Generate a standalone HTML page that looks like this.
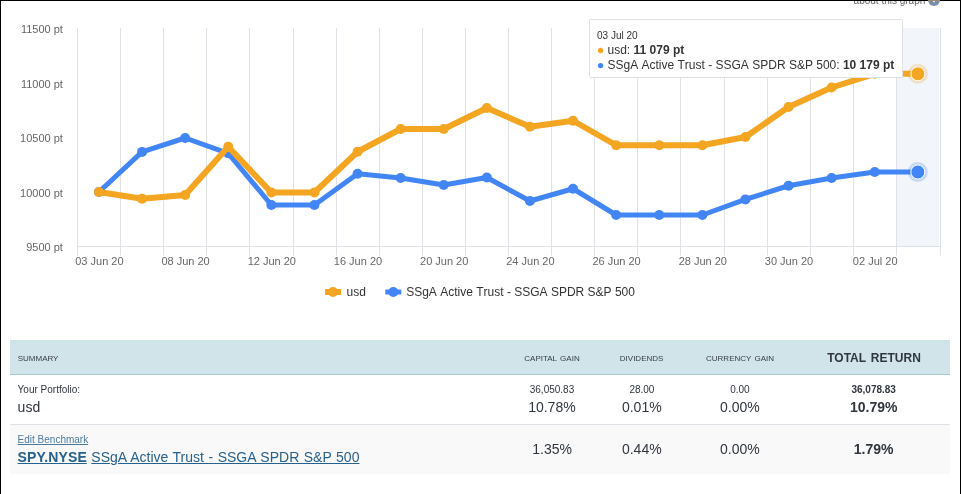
<!DOCTYPE html>
<html><head><meta charset="utf-8"><title>Performance</title>
<style>
html,body{margin:0;padding:0;background:#fff;}
body{width:961px;height:494px;position:relative;overflow:hidden;font-family:"Liberation Sans",sans-serif;color:#30363f;}
.abs{position:absolute;}
.t{position:absolute;white-space:nowrap;line-height:1;}
.c{transform:translateX(-50%);text-align:center;}
.hd{font-size:11px;color:#363d48;font-variant:small-caps;text-transform:lowercase;}
.s10{font-size:10px;}
.s14{font-size:14px;}
.b{font-weight:bold;}
a{text-decoration:underline;}
</style></head><body><div id="wrap" style="position:absolute;left:0;top:0;width:961px;height:494px;will-change:transform;">
<svg width="961" height="330" font-family="Liberation Sans, sans-serif" style="position:absolute;left:0;top:0;font-kerning:none"><rect x="896.5" y="28" width="42.5" height="218.3" fill="#f2f5fa"/><rect x="77" y="28" width="1" height="227.5" fill="#dee2e7"/><rect x="120" y="28" width="1" height="227.5" fill="#dee2e7"/><rect x="163" y="28" width="1" height="227.5" fill="#dee2e7"/><rect x="206" y="28" width="1" height="227.5" fill="#dee2e7"/><rect x="249" y="28" width="1" height="227.5" fill="#dee2e7"/><rect x="293" y="28" width="1" height="227.5" fill="#dee2e7"/><rect x="336" y="28" width="1" height="227.5" fill="#dee2e7"/><rect x="379" y="28" width="1" height="227.5" fill="#dee2e7"/><rect x="422" y="28" width="1" height="227.5" fill="#dee2e7"/><rect x="465" y="28" width="1" height="227.5" fill="#dee2e7"/><rect x="508" y="28" width="1" height="227.5" fill="#dee2e7"/><rect x="551" y="28" width="1" height="227.5" fill="#dee2e7"/><rect x="594" y="28" width="1" height="227.5" fill="#dee2e7"/><rect x="637" y="28" width="1" height="227.5" fill="#dee2e7"/><rect x="680" y="28" width="1" height="227.5" fill="#dee2e7"/><rect x="724" y="28" width="1" height="227.5" fill="#dee2e7"/><rect x="767" y="28" width="1" height="227.5" fill="#dee2e7"/><rect x="810" y="28" width="1" height="227.5" fill="#dee2e7"/><rect x="853" y="28" width="1" height="227.5" fill="#dee2e7"/><rect x="896" y="28" width="1" height="227.5" fill="#dee2e7"/><rect x="940" y="28" width="1" height="227.5" fill="#dee2e7"/><rect x="77" y="246" width="864" height="1" fill="#dee2e7"/><text x="62.9" y="33.0" text-anchor="end" font-size="11" fill="#666666" style="font-kerning:normal">11500 pt</text><text x="62.9" y="87.5" text-anchor="end" font-size="11" fill="#666666" style="font-kerning:normal">11000 pt</text><text x="62.9" y="142.0" text-anchor="end" font-size="11" fill="#666666" style="font-kerning:normal">10500 pt</text><text x="62.9" y="196.5" text-anchor="end" font-size="11" fill="#666666" style="font-kerning:normal">10000 pt</text><text x="62.9" y="251.0" text-anchor="end" font-size="11" fill="#666666" style="font-kerning:normal">9500 pt</text><text x="99.40" y="265" text-anchor="middle" font-size="11" fill="#666666">03 Jun 20</text><text x="185.60" y="265" text-anchor="middle" font-size="11" fill="#666666">08 Jun 20</text><text x="271.80" y="265" text-anchor="middle" font-size="11" fill="#666666">12 Jun 20</text><text x="358.00" y="265" text-anchor="middle" font-size="11" fill="#666666">16 Jun 20</text><text x="444.20" y="265" text-anchor="middle" font-size="11" fill="#666666">20 Jun 20</text><text x="530.40" y="265" text-anchor="middle" font-size="11" fill="#666666">24 Jun 20</text><text x="616.60" y="265" text-anchor="middle" font-size="11" fill="#666666">26 Jun 20</text><text x="702.80" y="265" text-anchor="middle" font-size="11" fill="#666666">28 Jun 20</text><text x="789.00" y="265" text-anchor="middle" font-size="11" fill="#666666">30 Jun 20</text><text x="875.20" y="265" text-anchor="middle" font-size="11" fill="#666666">02 Jul 20</text><path d="M 98.95 192.00 L 142.05 151.90 L 185.15 138.00 L 228.25 153.30 L 271.35 205.00 L 314.45 205.00 L 357.55 173.75 L 400.65 178.00 L 443.75 185.00 L 486.85 177.50 L 529.95 201.00 L 573.05 188.75 L 616.15 215.00 L 659.25 215.00 L 702.35 215.00 L 745.45 199.40 L 788.55 185.75 L 831.65 178.00 L 874.75 172.00 L 917.85 172.00" fill="none" stroke="#4285f4" stroke-width="5" stroke-linejoin="round" stroke-linecap="round"/><circle cx="98.95" cy="192.00" r="5" fill="#4285f4"/><circle cx="142.05" cy="151.90" r="5" fill="#4285f4"/><circle cx="185.15" cy="138.00" r="5" fill="#4285f4"/><circle cx="228.25" cy="153.30" r="5" fill="#4285f4"/><circle cx="271.35" cy="205.00" r="5" fill="#4285f4"/><circle cx="314.45" cy="205.00" r="5" fill="#4285f4"/><circle cx="357.55" cy="173.75" r="5" fill="#4285f4"/><circle cx="400.65" cy="178.00" r="5" fill="#4285f4"/><circle cx="443.75" cy="185.00" r="5" fill="#4285f4"/><circle cx="486.85" cy="177.50" r="5" fill="#4285f4"/><circle cx="529.95" cy="201.00" r="5" fill="#4285f4"/><circle cx="573.05" cy="188.75" r="5" fill="#4285f4"/><circle cx="616.15" cy="215.00" r="5" fill="#4285f4"/><circle cx="659.25" cy="215.00" r="5" fill="#4285f4"/><circle cx="702.35" cy="215.00" r="5" fill="#4285f4"/><circle cx="745.45" cy="199.40" r="5" fill="#4285f4"/><circle cx="788.55" cy="185.75" r="5" fill="#4285f4"/><circle cx="831.65" cy="178.00" r="5" fill="#4285f4"/><circle cx="874.75" cy="172.00" r="5" fill="#4285f4"/><path d="M 98.95 192.00 L 142.05 198.75 L 185.15 195.00 L 228.25 146.75 L 271.35 192.50 L 314.45 192.50 L 357.55 151.75 L 400.65 129.00 L 443.75 129.00 L 486.85 108.00 L 529.95 126.75 L 573.05 120.75 L 616.15 145.25 L 659.25 145.25 L 702.35 145.25 L 745.45 137.00 L 788.55 107.00 L 831.65 87.50 L 874.75 73.80 L 917.85 73.80" fill="none" stroke="#f4a522" stroke-width="6" stroke-linejoin="round" stroke-linecap="round"/><circle cx="98.95" cy="192.00" r="5" fill="#f4a522"/><circle cx="142.05" cy="198.75" r="5" fill="#f4a522"/><circle cx="185.15" cy="195.00" r="5" fill="#f4a522"/><circle cx="228.25" cy="146.75" r="5" fill="#f4a522"/><circle cx="271.35" cy="192.50" r="5" fill="#f4a522"/><circle cx="314.45" cy="192.50" r="5" fill="#f4a522"/><circle cx="357.55" cy="151.75" r="5" fill="#f4a522"/><circle cx="400.65" cy="129.00" r="5" fill="#f4a522"/><circle cx="443.75" cy="129.00" r="5" fill="#f4a522"/><circle cx="486.85" cy="108.00" r="5" fill="#f4a522"/><circle cx="529.95" cy="126.75" r="5" fill="#f4a522"/><circle cx="573.05" cy="120.75" r="5" fill="#f4a522"/><circle cx="616.15" cy="145.25" r="5" fill="#f4a522"/><circle cx="659.25" cy="145.25" r="5" fill="#f4a522"/><circle cx="702.35" cy="145.25" r="5" fill="#f4a522"/><circle cx="745.45" cy="137.00" r="5" fill="#f4a522"/><circle cx="788.55" cy="107.00" r="5" fill="#f4a522"/><circle cx="831.65" cy="87.50" r="5" fill="#f4a522"/><circle cx="874.75" cy="73.80" r="5" fill="#f4a522"/><circle cx="917.85" cy="172.00" r="10" fill="#4285f4" fill-opacity="0.25"/><circle cx="917.85" cy="172.00" r="7" fill="#4285f4" stroke="#ffffff" stroke-width="1"/><circle cx="917.85" cy="73.80" r="10" fill="#f4a522" fill-opacity="0.25"/><circle cx="917.85" cy="73.80" r="7" fill="#f4a522" stroke="#ffffff" stroke-width="1"/><path d="M 325 292 L 341 292" stroke="#f4a522" stroke-width="6"/><circle cx="333" cy="292" r="5" fill="#f4a522"/><text x="346.5" y="296" font-size="12" fill="#333333">usd</text><path d="M 385.3 292 L 401.3 292" stroke="#4285f4" stroke-width="5"/><circle cx="393.3" cy="292" r="5" fill="#4285f4"/><text x="406.2" y="296" font-size="12" fill="#333333">SSgA Active Trust - SSGA SPDR S&amp;P 500</text><rect x="589.5" y="19.5" width="313" height="58" rx="1" ry="1" fill="#ffffff" stroke="#dde1e6" stroke-width="1"/><text x="597" y="39" font-size="10" fill="#333333">03 Jul 20</text><circle cx="600.6" cy="50.5" r="2.65" fill="#f4a522"/><text x="607.5" y="54" font-size="12" fill="#333333">usd: <tspan font-weight="bold" style="font-kerning:normal">11 079 pt</tspan></text><circle cx="600.6" cy="65.6" r="2.65" fill="#4285f4"/><text x="607.5" y="68.7" font-size="12" fill="#333333">SSgA Active Trust - SSGA SPDR S&amp;P 500: <tspan font-weight="bold">10 179 pt</tspan></text><text x="925.3" y="3.5" text-anchor="end" font-size="10" fill="#666666" style="font-kerning:normal">about this graph</text><circle cx="934" cy="0" r="6" fill="#7a8dab"/><circle cx="934" cy="1.6" r="0.8" fill="#ffffff"/></svg>
<div class="abs" style="left:10px;top:340px;width:940px;height:33.5px;background:#d1e4ea;"></div>
<div class="abs" style="left:10px;top:373.5px;width:940px;height:1px;background:#a8cad3;"></div>
<div class="abs" style="left:10px;top:424px;width:940px;height:1px;background:#dde1e6;"></div>
<div class="abs" style="left:10px;top:425px;width:940px;height:48.5px;background:#f9f9f9;"></div>

<div class="t hd" style="left:17.7px;top:352px;">Summary</div>
<div class="t hd c" style="left:552px;top:352px;">Capital Gain</div>
<div class="t hd c" style="left:641.6px;top:352px;">Dividends</div>
<div class="t hd c" style="left:740px;top:352px;">Currency Gain</div>
<div class="t c b" style="left:874px;top:347.7px;font-size:17px;color:#30363f;font-variant:small-caps;text-transform:lowercase;">Total Return</div>

<div class="t s10" style="left:17.6px;top:385px;">Your Portfolio:</div>
<div class="t s14" style="left:17.6px;top:400px;">usd</div>
<div class="t s10 c" style="left:552px;top:385px;">36,050.83</div>
<div class="t s14 c" style="left:551.9px;top:400px;">10.78%</div>
<div class="t s10 c" style="left:641.9px;top:385px;">28.00</div>
<div class="t s14 c" style="left:641.8px;top:400px;">0.01%</div>
<div class="t s10 c" style="left:739.9px;top:385px;">0.00</div>
<div class="t s14 c" style="left:739.9px;top:400px;">0.00%</div>
<div class="t s10 c b" style="left:873.7px;top:385px;">36,078.83</div>
<div class="t s14 c b" style="left:873.7px;top:400px;">10.79%</div>

<div class="t s10" style="left:17.6px;top:435px;color:#4b7b9d;"><a>Edit Benchmark</a></div>
<div class="t s14" style="left:17.6px;top:450px;color:#27618d;"><a><b style="letter-spacing:0.1px">SPY.NYSE</b></a> <a style="word-spacing:0.65px;margin-left:0.6px">SSgA Active Trust - SSGA SPDR S&amp;P 500</a></div>
<div class="t s14 c" style="left:552.1px;top:442px;">1.35%</div>
<div class="t s14 c" style="left:641.8px;top:442px;">0.44%</div>
<div class="t s14 c" style="left:739.9px;top:442px;">0.00%</div>
<div class="t s14 c b" style="left:873.7px;top:442px;">1.79%</div>

<div class="abs" style="left:0;top:0;width:961px;height:1px;background:#000;"></div>
<div class="abs" style="left:928px;top:0;width:12px;height:1px;background:#9c8b6a;"></div>
<div class="abs" style="left:0;top:0;width:1px;height:494px;background:#000;"></div>
<div class="abs" style="left:960px;top:0;width:1px;height:494px;background:#000;"></div>
</div></body></html>
